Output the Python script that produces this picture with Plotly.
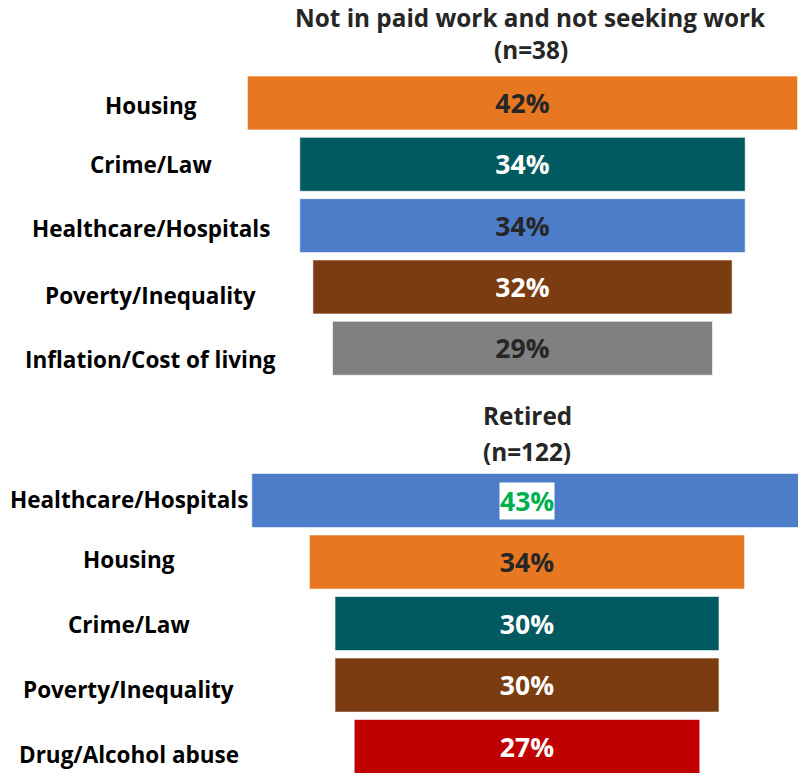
import plotly.graph_objects as go
from plotly.subplots import make_subplots

# Group 1: not in paid work and not seeking work
g1_title = ["Not in paid work and not seeking work", "(n=38)"]
g1_cats = ["Housing", "Crime/Law", "Healthcare/Hospitals", "Poverty/Inequality", "Inflation/Cost of living"]
g1_vals = [42, 34, 34, 32, 29]
g1_colors = ["#E87722", "#005A5F", "#4D7DC9", "#7A3C10", "#808080"]
g1_text = ["#262626", "#FFFFFF", "#262626", "#FFFFFF", "#262626"]

# Group 2: retired
g2_title = ["Retired", "(n=122)"]
g2_cats = ["Healthcare/Hospitals", "Housing", "Crime/Law", "Poverty/Inequality", "Drug/Alcohol abuse"]
g2_vals = [43, 34, 30, 30, 27]
g2_colors = ["#4D7DC9", "#E87722", "#005A5F", "#7A3C10", "#C00000"]
g2_text = ["#00B050", "#262626", "#FFFFFF", "#FFFFFF", "#FFFFFF"]
g2_highlight = 0  # label shown on a white box

W, H = 798, 773
LABEL_FONT = "Open Sans"
VALUE_FONT = "Open Sans"
VALUE_SIZE = 26.5

# pixel rows of the category labels (they sit on a slightly looser pitch than the bars)
g1_label_px = [105, 165, 229, 295, 359]
g2_label_px = [500, 559, 624, 689, 754]

fig = make_subplots(rows=2, cols=1)


def py(px):
    return 1 - px / H


def add_group(row, cats, vals, colors, tcolors):
    fig.add_trace(
        go.Bar(
            y=cats,
            x=vals,
            base=[-v / 2 for v in vals],
            orientation="h",
            marker=dict(color=colors, line=dict(width=1, color="rgba(255,255,255,0.6)")),
            text=[f"{v}%" for v in vals],
            textposition="inside",
            insidetextanchor="middle",
            textangle=0,
            textfont=dict(family=VALUE_FONT, size=VALUE_SIZE, color=tcolors, weight="bold"),
            hoverinfo="skip",
        ),
        row=row, col=1,
    )


add_group(1, g1_cats, g1_vals, g1_colors, g1_text)
add_group(2, g2_cats, g2_vals, g2_colors, g2_text)

# axis scales: top group 13.1 px per point centred at x=522.5, bottom 12.8 px centred at 527
fig.update_layout(
    width=W, height=H,
    margin=dict(l=0, r=0, t=0, b=0),
    paper_bgcolor="white", plot_bgcolor="white",
    showlegend=False,
    bargap=0.12,
    uniformtext=dict(mode="show", minsize=10),
    xaxis=dict(domain=[0, 1], range=[-522.5 / 13.1, 275.5 / 13.1], visible=False, fixedrange=True),
    xaxis2=dict(domain=[0, 1], range=[-527 / 12.8, 271 / 12.8], visible=False, fixedrange=True),
    yaxis=dict(domain=[py(378.9), py(72.35)], range=[4.5, -0.5], visible=False, type="category"),
    yaxis2=dict(domain=[0, py(469.75)], range=[4.43, -0.5], visible=False, type="category"),
)

annotations = []
for cats, rows_px, xc in [(g1_cats, g1_label_px, 150.5), (g2_cats, g2_label_px, 128.5)]:
    for c, ypx in zip(cats, rows_px):
        annotations.append(dict(
            x=xc / W, xref="paper", y=py(ypx), yref="paper",
            text=f"<b>{c}</b>", showarrow=False, xanchor="center", yanchor="middle",
            font=dict(family=LABEL_FONT, size=22.5, color="#000000"),
        ))

annotations.append(dict(
    x=0, xref="x2", y=g2_cats[g2_highlight], yref="y2",
    text=f"<b>{g2_vals[g2_highlight]}%</b>", showarrow=False,
    font=dict(family=VALUE_FONT, size=VALUE_SIZE, color=g2_text[g2_highlight]),
    bgcolor="white", borderpad=0,
))

for lines, xc, ys in [(g1_title, 530.5, [18, 50]), (g2_title, 527, [416, 451])]:
    for line, ypx in zip(lines, ys):
        annotations.append(dict(
            x=xc / W, xref="paper", y=py(ypx), yref="paper",
            text=f"<b>{line}</b>", showarrow=False, xanchor="center", yanchor="middle",
            font=dict(family=VALUE_FONT, size=24.3, color="#262626"),
        ))

fig.update_layout(annotations=annotations)

fig.write_html("out.html")
